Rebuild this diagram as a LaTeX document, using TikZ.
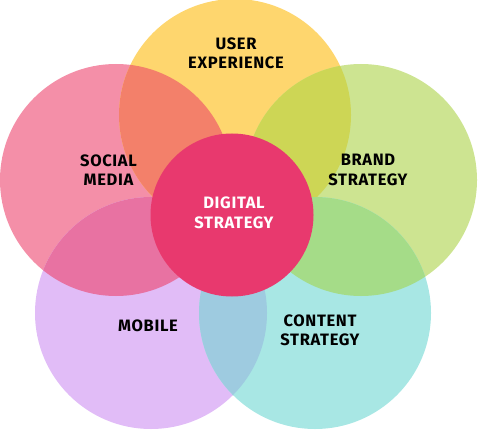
\documentclass[tikz,border=0pt]{standalone}
\usepackage{fontspec}
\newfontfamily\lblfont[LetterSpace=4]{Fira Sans}
\definecolor{cPk}{HTML}{F48FA8}
\definecolor{cYe}{HTML}{FED66E}
\definecolor{cGr}{HTML}{CDE491}
\definecolor{cPu}{HTML}{E1BCF7}
\definecolor{cCy}{HTML}{A8E7E4}
\definecolor{cPkYe}{HTML}{F3806A}
\definecolor{cYeGr}{HTML}{CDD655}
\definecolor{cPkPu}{HTML}{E872A2}
\definecolor{cGrCy}{HTML}{A5DC88}
\definecolor{cPuCy}{HTML}{9ECBE0}
\definecolor{cCr}{HTML}{E8396E}
\tikzset{
  lbl/.style={font=\lblfont\bfseries\fontsize{16.5}{19.5}\selectfont, align=center, text=black, inner sep=0pt},
  wlbl/.style={lbl, text=white}
}
\begin{document}
\begin{tikzpicture}[x=1pt,y=-1pt]
\useasboundingbox (0,0) rectangle (478,430);
\def\Pk{(116,180) circle (116pt)}
\def\Ye{(235,115) circle (116pt)}
\def\Gr{(361,180) circle (116pt)}
\def\Pu{(151,313) circle (116pt)}
\def\Cy{(315,313) circle (116pt)}
\fill[cPk] \Pk;
\fill[cYe] \Ye;
\fill[cGr] \Gr;
\fill[cPu] \Pu;
\fill[cCy] \Cy;
\begin{scope}\clip \Pk; \fill[cPkYe] \Ye; \end{scope}
\begin{scope}\clip \Ye; \fill[cYeGr] \Gr; \end{scope}
\begin{scope}\clip \Pk; \fill[cPkPu] \Pu; \end{scope}
\begin{scope}\clip \Gr; \fill[cGrCy] \Cy; \end{scope}
\begin{scope}\clip \Pu; \fill[cPuCy] \Cy; \end{scope}
\node[circle, fill=cCr, inner sep=0pt, minimum size=163pt] (center) at (232,215) {};
\node[lbl] (ux) at (236,53.5) {USER\\EXPERIENCE};
\node[lbl] (social) at (108.5,170) {SOCIAL\\MEDIA};
\node[lbl] (brand) at (368,170) {BRAND\\STRATEGY};
\node[wlbl] (digital) at (234,213) {DIGITAL\\STRATEGY};
\node[lbl] (mobile) at (148,326) {MOBILE};
\node[lbl] (content) at (320,330.5) {CONTENT\\STRATEGY};
\end{tikzpicture}
\end{document}
